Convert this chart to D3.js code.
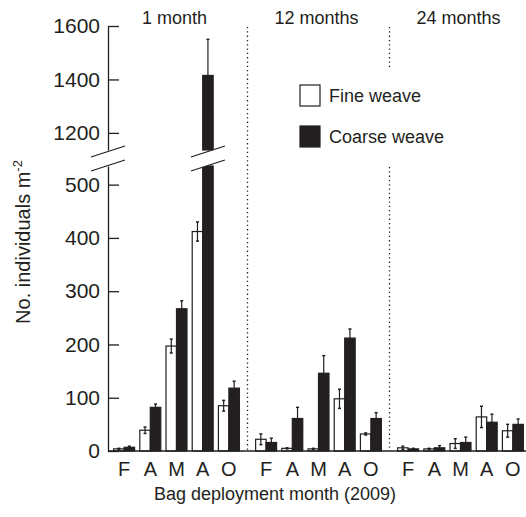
<!DOCTYPE html>
<head>
  <meta charset="utf-8">
  <script src="https://cdn.jsdelivr.net/npm/d3@7"></script>
  <style>
    body { margin: 0; background: #fff; }
    text { font-family: "Liberation Sans", Arial, Helvetica, sans-serif; fill: #231f20; }
    .axis path, .axis line { stroke: #231f20; stroke-width: 1.3px; }
    .axis text { font-size: 21px; fill: #231f20; }
  </style>
</head>
<body>
<script>
  // data
  var periods = ["1 month", "12 months", "24 months"];
  var months = ["F", "A", "M", "A", "O"];

  var fine = [
    [4, 39, 197, 412, 85],
    [22, 5, 4, 98, 32],
    [6, 4, 14, 64, 38]
  ];
  var fineErr = [
    [1, 6, 13, 18, 10],
    [10, 1, 1, 18, 2],
    [3, 1, 9, 20, 12]
  ];
  var coarse = [
    [7, 82, 267, 1415, 118],
    [16, 61, 146, 212, 61],
    [4, 6, 16, 54, 50]
  ];
  var coarseErr = [
    [2, 6, 15, 135, 13],
    [8, 21, 33, 17, 11],
    [1, 4, 10, 15, 10]
  ];
  var lowTicks = [0, 100, 200, 300, 400, 500];
  var highTicks = [1200, 1400, 1600];

  var width = 526, height = 517;
  var ink = "#231f20";

  var svg = d3.select("body").append("svg")
      .attr("width", width)
      .attr("height", height);

  // broken y axis: two linear pieces
  var yLow = d3.scaleLinear().domain([0, 535]).range([451, 166]);
  var yHigh = d3.scaleLinear().domain([1136, 1600]).range([150, 26]);
  function yv(v) { return v <= 535 ? yLow(v) : yHigh(v); }

  var x0 = d3.scaleBand().domain(d3.range(periods.length))
      .range([111, 526]).paddingInner(0.0775).paddingOuter(0);
  var x1 = d3.scaleBand().domain(d3.range(months.length))
      .range([0, x0.bandwidth()]).paddingInner(0.2).paddingOuter(0.1);

  // flatten into bar rows
  var bars = [];
  periods.forEach(function(p, pi) {
    months.forEach(function(m, mi) {
      bars.push({p: pi, m: mi, kind: "fine", v: fine[pi][mi], e: fineErr[pi][mi]});
      bars.push({p: pi, m: mi, kind: "coarse", v: coarse[pi][mi], e: coarseErr[pi][mi]});
    });
  });
  var bw = x1.bandwidth() / 2;
  function bx(d) { return x0(d.p) + x1(d.m) + (d.kind === "coarse" ? bw : 0); }

  // separators
  var sepX = [1, 2].map(function(i) { return x0(i) - x0.step() * x0.paddingInner() / 2; });
  svg.append("line")
      .attr("x1", sepX[0]).attr("x2", sepX[0])
      .attr("y1", 27).attr("y2", 451)
      .attr("stroke", ink).attr("stroke-width", 1.3).attr("stroke-dasharray", "1.3,3");
  [[27, 70], [167, 451]].forEach(function(s) {
    svg.append("line")
        .attr("x1", sepX[1]).attr("x2", sepX[1])
        .attr("y1", s[0]).attr("y2", s[1])
        .attr("stroke", ink).attr("stroke-width", 1.3).attr("stroke-dasharray", "1.3,3");
  });

  // bars (the tall one is split across both pieces)
  var g = svg.append("g");
  bars.forEach(function(d) {
    var fill = d.kind === "fine" ? "#fff" : ink;
    var x = bx(d);
    var segs = d.v <= 535 ? [[yLow(0), yLow(d.v)]] : [[yLow(0), yLow(535)], [yHigh(1136), yHigh(d.v)]];
    segs.forEach(function(s) {
      g.append("rect")
          .attr("x", x).attr("width", bw)
          .attr("y", s[1]).attr("height", s[0] - s[1])
          .attr("fill", fill)
          .attr("stroke", ink).attr("stroke-width", 1.2);
    });
    // error bar
    var cx = x + bw / 2;
    var top = yv(d.v + d.e), bot = yv(Math.max(d.v - d.e, 0));
    g.append("line").attr("x1", cx).attr("x2", cx).attr("y1", top).attr("y2", bot)
        .attr("stroke", ink).attr("stroke-width", 1.2);
    [top, bot].forEach(function(yy) {
      g.append("line").attr("x1", cx - 1.5).attr("x2", cx + 1.5).attr("y1", yy).attr("y2", yy)
          .attr("stroke", ink).attr("stroke-width", 1.5);
    });
  });

  // axes
  svg.append("g").attr("class", "axis")
      .attr("transform", "translate(108,0)")
      .call(d3.axisLeft(yLow).tickValues(lowTicks).tickFormat(d3.format("d"))
        .tickSizeInner(-11).tickSizeOuter(0).tickPadding(8));
  svg.append("g").attr("class", "axis")
      .attr("transform", "translate(108,0)")
      .call(d3.axisLeft(yHigh).tickValues(highTicks).tickFormat(d3.format("d"))
        .tickSizeInner(-11).tickSizeOuter(0).tickPadding(8));
  svg.append("line").attr("x1", 108).attr("x2", width).attr("y1", 451).attr("y2", 451)
      .attr("stroke", ink).attr("stroke-width", 1.3);

  // break marks on the axis and on the tall bar
  var tall = bars.filter(function(d) { return d.v > 535; })[0];
  [108, bx(tall) + bw / 2].forEach(function(cx) {
    svg.append("path")
        .attr("d", "M" + (cx - 17) + "," + 157 + "L" + (cx + 17) + "," + 146 +
                   "L" + (cx + 17) + "," + 160 + "L" + (cx - 17) + "," + 171 + "Z")
        .attr("fill", "#fff");
    [[157, 146], [171, 160]].forEach(function(s) {
      svg.append("line")
          .attr("x1", cx - 17).attr("y1", s[0]).attr("x2", cx + 17).attr("y2", s[1])
          .attr("stroke", ink).attr("stroke-width", 1.3);
    });
  });

  // month labels
  periods.forEach(function(p, pi) {
    months.forEach(function(m, mi) {
      svg.append("text")
          .attr("x", x0(pi) + x1(mi) + x1.bandwidth() / 2)
          .attr("y", 476)
          .attr("text-anchor", "middle")
          .style("font-size", "20px")
          .text(m);
    });
    svg.append("text")
        .attr("x", x0(pi) + x0.bandwidth() / 2 - 2)
        .attr("y", 24)
        .attr("text-anchor", "middle")
        .style("font-size", "18px")
        .text(p);
  });

  // axis titles
  svg.append("text")
      .attr("x", 275).attr("y", 500)
      .attr("text-anchor", "middle")
      .style("font-size", "18px")
      .text("Bag deployment month (2009)");

  var yt = svg.append("text")
      .attr("transform", "translate(30,242) rotate(-90)")
      .attr("text-anchor", "middle")
      .style("font-size", "20px");
  yt.append("tspan").text("No. individuals m");
  yt.append("tspan").attr("dy", -8).style("font-size", "13px").text("-2");

  // legend
  var legend = [["Fine weave", "#fff"], ["Coarse weave", ink]];
  legend.forEach(function(l, i) {
    svg.append("rect")
        .attr("x", 300).attr("y", 85 + i * 41)
        .attr("width", 20).attr("height", 21)
        .attr("fill", l[1]).attr("stroke", ink).attr("stroke-width", 1.2);
    svg.append("text")
        .attr("x", 329).attr("y", 102 + i * 41)
        .style("font-size", "18px")
        .text(l[0]);
  });
</script>
</body>
